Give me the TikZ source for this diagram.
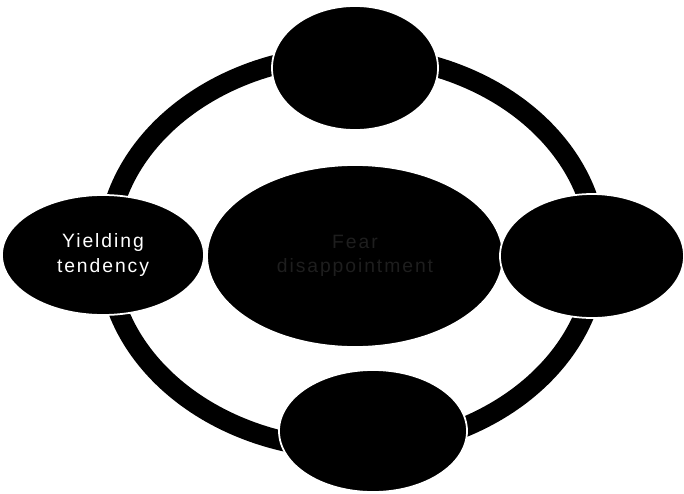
\documentclass[tikz,border=0pt]{standalone}
\usepackage{fontspec}
\usepackage{tikz}
\usetikzlibrary{shapes.geometric}
\newfontfamily\labelfont{Liberation Sans}[LetterSpace=10]
\definecolor{ink}{HTML}{000000}
\definecolor{faint}{HTML}{1E1E1E}

\begin{document}
\begin{tikzpicture}[
  blob/.style={ellipse,fill=ink,draw=white,line width=1pt,inner sep=0pt,
    align=center,font=\labelfont\fontsize{11}{14}\selectfont},
  ringline/.style={draw=ink,line width=0.4cm}]
\useasboundingbox (0,0) rectangle (13.68,9.86);
\draw[ringline] (7.04,4.82) ellipse (4.9 and 3.94);
\node[blob,minimum width=5.92cm,minimum height=3.64cm,text=faint] (core) at (7.10,4.74) {Fear\\disappointment};
\node[blob,minimum width=3.32cm,minimum height=2.48cm] (top) at (7.10,8.50) {};
\node[blob,minimum width=3.76cm,minimum height=2.44cm] (bottom) at (7.46,1.24) {};
\node[blob,minimum width=4.04cm,minimum height=2.40cm,text=white] (yield) at (2.06,4.76) {Yielding\\tendency};
\node[blob,minimum width=3.68cm,minimum height=2.48cm] (right) at (11.84,4.74) {};
\end{tikzpicture}
\end{document}
